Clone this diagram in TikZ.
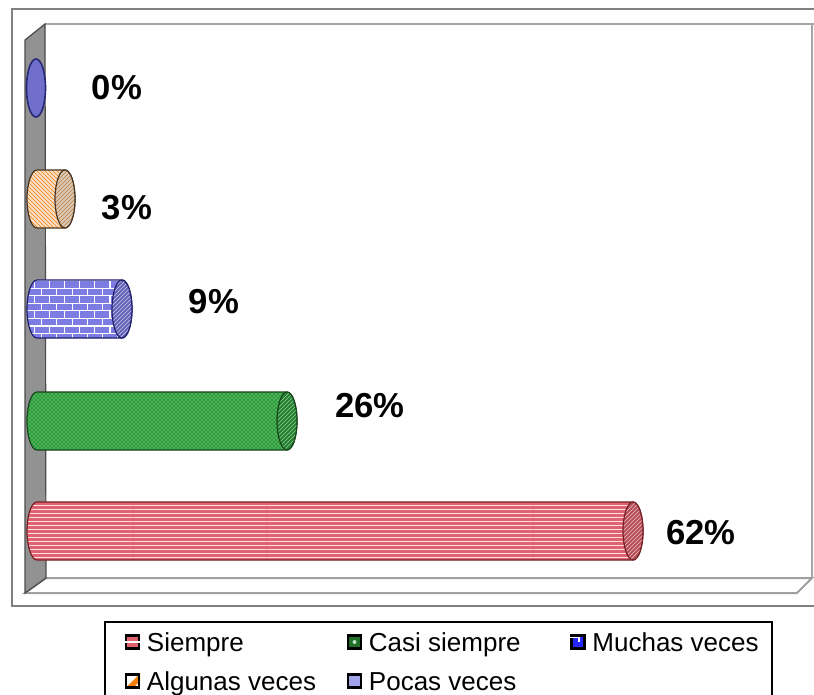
\documentclass[tikz,border=0pt]{standalone}
\usepackage{fontspec}
\setmainfont{Liberation Sans}
\usepackage{tikz}
\usetikzlibrary{positioning}
\usetikzlibrary{patterns}

\definecolor{barred}{RGB}{224,98,110}
\definecolor{barrededge}{RGB}{120,32,36}
\definecolor{bargreen}{RGB}{44,158,58}
\definecolor{bargreenedge}{RGB}{22,70,26}
\definecolor{barblue}{RGB}{124,124,226}
\definecolor{barblueedge}{RGB}{32,32,112}
\definecolor{barorange}{RGB}{248,224,200}
\definecolor{barorangeedge}{RGB}{72,52,34}
\definecolor{barpurple}{RGB}{112,112,204}
\definecolor{barpurpleedge}{RGB}{40,40,120}
\definecolor{wallgray}{RGB}{146,146,146}
\definecolor{framegray}{RGB}{128,128,128}

\begin{document}
\begin{tikzpicture}[x=0.75pt,y=0.75pt,yscale=-1,xscale=1,
  pct/.style={font=\fontsize{26}{30}\selectfont\bfseries, inner sep=0pt},
  legtxt/.style={font=\fontsize{19.5}{23}\selectfont, inner sep=0pt, text height=14pt, text depth=0pt},
  legmark/.style={draw=black, line width=1.8, minimum size=9.5pt, inner sep=0pt},
  redbody/.style={preaction={fill=barred}, pattern=horizontal lines, pattern color=white!80!barred, draw=barrededge, line width=0.9},
  redcap/.style={preaction={fill=barred!80!black}, pattern=north east lines, pattern color=white!60!barred, draw=barrededge, line width=0.9},
  greenbody/.style={preaction={fill=bargreen}, pattern=crosshatch dots, pattern color=white!75!bargreen, draw=bargreenedge, line width=0.9},
  greencap/.style={preaction={fill=bargreen!80!black}, pattern=north east lines, pattern color=white!50!bargreen, draw=bargreenedge, line width=0.9},
  bluebody/.style={preaction={fill=barblue}, pattern=bricks, pattern color=white, draw=barblueedge, line width=0.9},
  bluecap/.style={preaction={fill=barblue!80!black}, pattern=north east lines, pattern color=white!60!barblue, draw=barblueedge, line width=0.9},
  orangebody/.style={preaction={fill=barorange}, pattern=north west lines, pattern color=orange!85!brown, draw=barorangeedge, line width=0.9},
  orangecap/.style={preaction={fill=barorange!75!gray}, pattern=north east lines, pattern color=brown, draw=barorangeedge, line width=0.9}]
\useasboundingbox (0,0) rectangle (814,694);
\clip (0,0) rectangle (814,694);
\fill[white] (0,0) rectangle (814,694);

% Frame
\draw [color=framegray, line width=1.5]  (816,9) -- (12,9) -- (12,606) -- (816,606) ;

% Walls and floor
\draw [color=gray!70, line width=1.5]  (45,24) -- (816,24) ;
\draw [color=gray!70, line width=1.2]  (812,24) -- (812,578) ;
\draw [fill=white, draw=gray!75, line width=1.5]  (25,593) -- (46,578) -- (812,578) -- (797,593) -- cycle ;
\draw [fill=wallgray, draw=black!70, line width=0.9]  (25,40) -- (45,24) -- (46,578) -- (25,593) -- cycle ;

% Pocas veces 0%
\draw [fill=barpurple, draw=barpurpleedge, line width=1.2]  (36,88) ellipse [x radius=9.5, y radius=29] ;
% Algunas veces 3%
\draw [orangebody]  (65,170) -- (37,170) arc [start angle=270, end angle=90, x radius=10, y radius=29] -- (65,228) arc [start angle=90, end angle=-90, x radius=10, y radius=29] -- cycle ;
\draw [orangecap]  (65,199) ellipse [x radius=10, y radius=29] ;
% Muchas veces 9%
\draw [bluebody]  (122,280) -- (37,280) arc [start angle=270, end angle=90, x radius=10, y radius=29] -- (122,338) arc [start angle=90, end angle=-90, x radius=10, y radius=29] -- cycle ;
\draw [bluecap]  (122,309) ellipse [x radius=10, y radius=29] ;
% Casi siempre 26%
\draw [greenbody]  (287,392) -- (37,392) arc [start angle=270, end angle=90, x radius=10, y radius=29] -- (287,450) arc [start angle=90, end angle=-90, x radius=10, y radius=29] -- cycle ;
\draw [greencap]  (287,421) ellipse [x radius=10, y radius=29] ;
% Siempre 62%
\draw [redbody]  (633,502) -- (37,502) arc [start angle=270, end angle=90, x radius=10, y radius=29] -- (633,560) arc [start angle=90, end angle=-90, x radius=10, y radius=29] -- cycle ;
\draw [redcap]  (633,531) ellipse [x radius=10, y radius=29] ;

% Text Node
\node [pct] (pcPocas) at (117,88) {0\%};
% Text Node
\node [pct] (pcAlgunas) at (127,208) {3\%};
% Text Node
\node [pct] (pcMuchas) at (214,302) {9\%};
% Text Node
\node [pct] (pcCasi) at (370,406) {26\%};
% Text Node
\node [pct] (pcSiempre) at (701,533) {62\%};

% Legend
\draw [line width=1.5]  (105,700) -- (105,622) -- (772,622) -- (772,700) ;
\node [legmark, fill=barred] (mkSiempre) at (132.5,642) {};
\draw [white, line width=1.2]  (mkSiempre.west) -- (mkSiempre.east) ;
\node [legtxt, right=5pt of mkSiempre] (lgSiempre) {Siempre};
\node [legmark, fill=bargreen!70!black] (mkCasi) at (354.5,642) {};
\fill [white!70!bargreen]  (mkCasi.center) circle [radius=2] ;
\node [legtxt, right=5pt of mkCasi] (lgCasi) {Casi siempre};
\node [legmark, fill=blue!85!white] (mkMuchas) at (578,642) {};
\draw [white, line width=1.2]  (mkMuchas.north west) ++(0,3) -- ++(8.5,0) -- ++(0,5) ;
\node [legtxt, right=5pt of mkMuchas] (lgMuchas) {Muchas veces};
\node [legmark, fill=white] (mkAlgunas) at (132.5,681) {};
\fill [orange!85!brown]  (mkAlgunas.south) -- (mkAlgunas.east) -- (mkAlgunas.north east) -- (mkAlgunas.center) -- (mkAlgunas.south west) -- cycle ;
\node [legmark] at (mkAlgunas) {};
\node [legtxt, right=5pt of mkAlgunas] (lgAlgunas) {Algunas veces};
\node [legmark, fill=barblue!70!white] (mkPocas) at (354.5,681) {};
\node [legtxt, right=5pt of mkPocas] (lgPocas) {Pocas veces};

\end{tikzpicture}
\end{document}
